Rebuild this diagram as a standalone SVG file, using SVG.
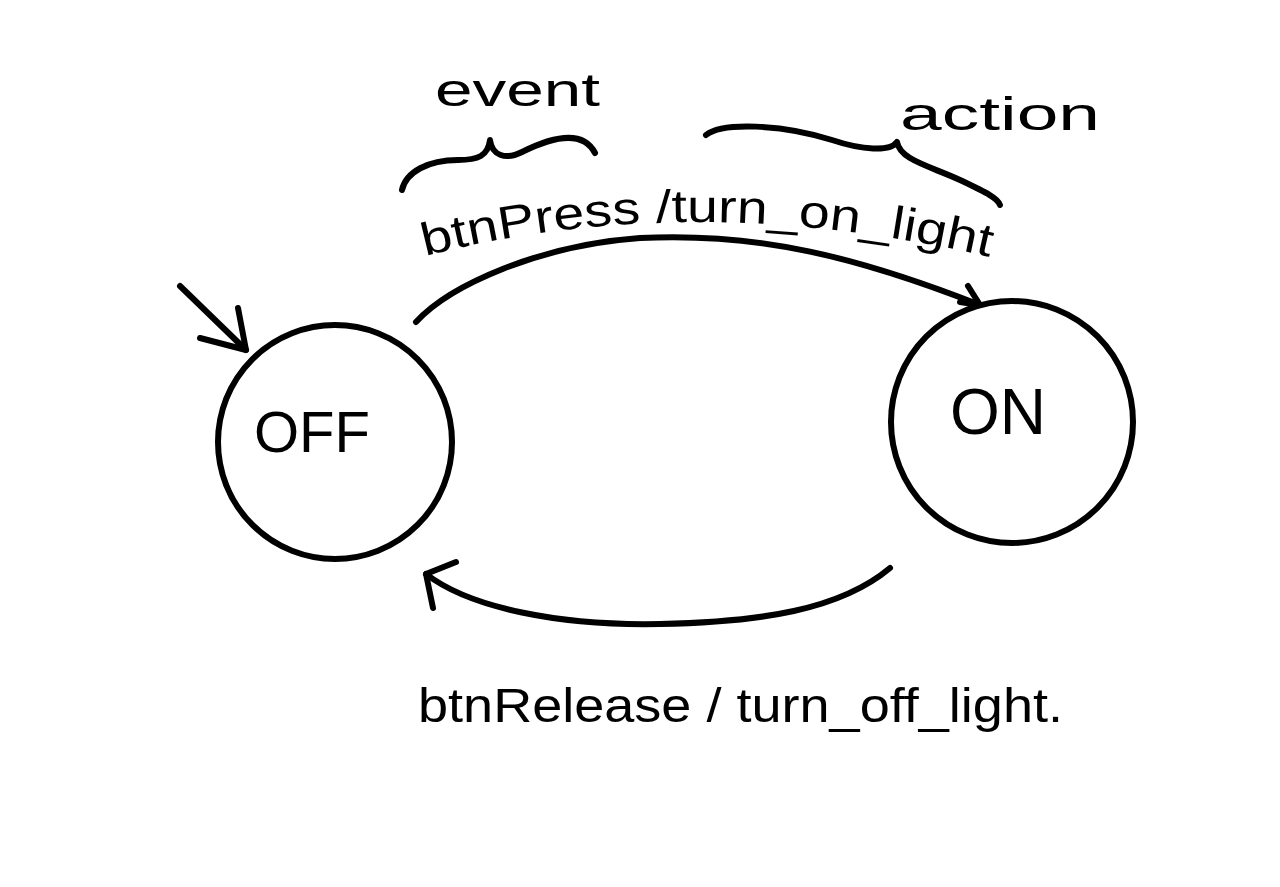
<svg xmlns="http://www.w3.org/2000/svg" width="1280" height="887" viewBox="0 0 1280 887">
<style>
.ln{fill:none;stroke:#000;stroke-width:6;stroke-linecap:round;stroke-linejoin:round}
.st{fill:#fff;stroke:#000;stroke-width:6}
.t{font-family:"Liberation Sans","DejaVu Sans",sans-serif;fill:#000}
</style>
<defs>
  <path id="toparc" d="M425,256 Q690,188 985,256"/>
</defs>
<rect width="1280" height="887" fill="#fff"/>
<g id="connectors">
  <g id="initial">
    <path class="ln" d="M180,286 L246,350"/>
    <path class="ln" d="M238,308 L246,350 L200,338"/>
  </g>
  <g id="off-to-on">
    <path class="ln" d="M416,322 C450,285 540,245 640,238 C760,232 860,258 980,305"/>
    <path class="ln" d="M968,286 L980,305 L960,302"/>
  </g>
  <g id="on-to-off">
    <path class="ln" d="M890,568 C840,610 760,622 660,624 C560,626 470,608 426,574"/>
    <path class="ln" d="M456,562 L426,574 L433,608"/>
  </g>
</g>
<g id="labels">
  <text class="t" font-size="46"><textPath href="#toparc" textLength="570" lengthAdjust="spacingAndGlyphs">btnPress /turn_on_light</textPath></text>
  <text class="t" x="418" y="722" font-size="48" textLength="645" lengthAdjust="spacingAndGlyphs">btnRelease / turn_off_light.</text>
  <text class="t" x="435" y="106" font-size="46" textLength="165" lengthAdjust="spacingAndGlyphs">event</text>
  <text class="t" x="900" y="130" font-size="46" textLength="200" lengthAdjust="spacingAndGlyphs">action</text>
  <path id="event-brace" class="ln" d="M402,190 C406,172 428,160 458,160 C478,160 488,156 490,140 C492,156 506,160 522,152 C550,138 582,128 595,153"/>
  <path id="action-brace" class="ln" d="M706,135 C722,122 782,124 832,140 C862,150 890,152 897,142 C900,160 930,166 960,180 C985,192 998,198 1000,205"/>
</g>
<g id="node-off">
  <circle class="st" cx="335" cy="442" r="117"/>
  <text class="t" x="312" y="452" font-size="58" text-anchor="middle">OFF</text>
</g>
<g id="node-on">
  <circle class="st" cx="1012" cy="422" r="121"/>
  <text class="t" x="998" y="434" font-size="64" text-anchor="middle">ON</text>
</g>
</svg>
